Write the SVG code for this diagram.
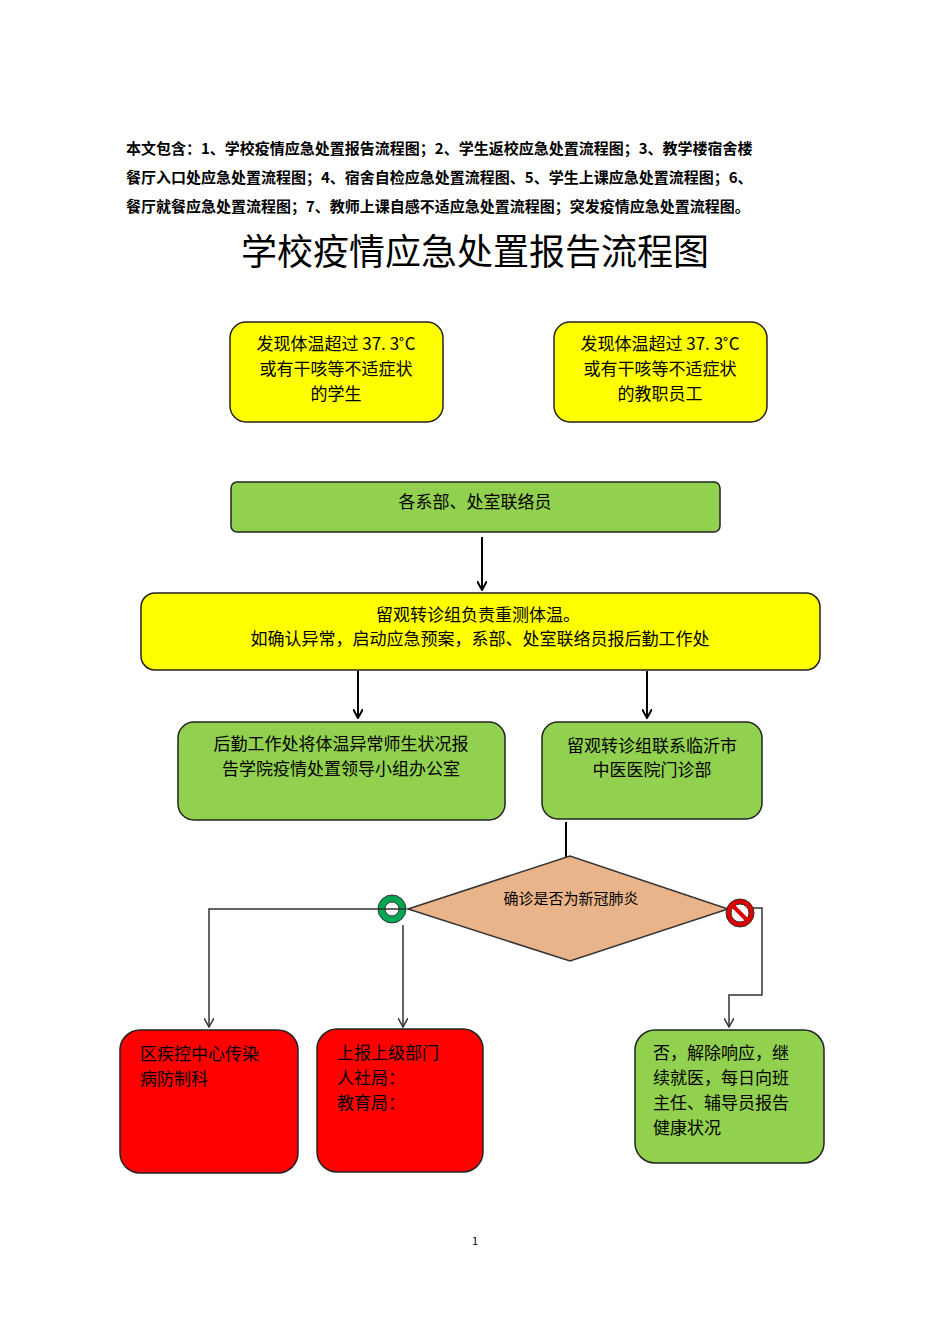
<svg xmlns="http://www.w3.org/2000/svg" width="950" height="1344" viewBox="0 0 950 1344">
<style>
text{font-family:"Noto Sans CJK SC","Liberation Sans",sans-serif;fill:#000}
.h{font-size:15px;font-weight:bold}
.t{font-size:17px}
.box{stroke:#222;stroke-width:1.5}
.y{fill:#ffff00}.g{fill:#92d050}.r{fill:#ff0000}
.c{stroke:#000;stroke-width:2;fill:none}
.c2{stroke:#333;stroke-width:1.5;fill:none}
</style>
<defs>
<marker id="a" markerWidth="10" markerHeight="10" refX="8" refY="5" orient="auto" markerUnits="userSpaceOnUse"><path d="M0,0 L9,5 L0,10" fill="none" stroke="#000" stroke-width="2"/></marker>
<marker id="b" markerWidth="10" markerHeight="10" refX="8" refY="5" orient="auto" markerUnits="userSpaceOnUse"><path d="M0,0 L9,5 L0,10" fill="none" stroke="#333" stroke-width="1.5"/></marker>
</defs>
<rect width="950" height="1344" fill="#fff"/>
<text class="h" x="126" y="154">本文包含：1、学校疫情应急处置报告流程图；2、学生返校应急处置流程图；3、教学楼宿舍楼</text>
<text class="h" x="126" y="183">餐厅入口处应急处置流程图；4、宿舍自检应急处置流程图、5、学生上课应急处置流程图；6、</text>
<text class="h" x="126" y="212">餐厅就餐应急处置流程图；7、教师上课自感不适应急处置流程图；突发疫情应急处置流程图。</text>
<text x="475" y="265" text-anchor="middle" font-size="36">学校疫情应急处置报告流程图</text>
<g id="connectors">
<path class="c" d="M482,537 V589" marker-end="url(#a)"/>
<path class="c" d="M358,671 V717" marker-end="url(#a)"/>
<path class="c" d="M647,671 V717" marker-end="url(#a)"/>
<path class="c" d="M566,822 V868" marker-end="url(#a)"/>
<path class="c2" d="M392,909 H209 V1026" marker-end="url(#b)"/>
<path class="c2" d="M403,925 V1026" marker-end="url(#b)"/>
<path class="c2" d="M740,908 H762 V995 H729 V1026" marker-end="url(#b)"/>
</g>
<g id="n1"><rect class="box y" x="230" y="322" width="213" height="100" rx="16"/>
<text class="t" x="336" y="350" text-anchor="middle">发现体温超过 37. 3˚C</text><text class="t" x="336" y="375" text-anchor="middle">或有干咳等不适症状</text><text class="t" x="336" y="400" text-anchor="middle">的学生</text></g>
<g id="n2"><rect class="box y" x="554" y="322" width="213" height="100" rx="16"/>
<text class="t" x="660" y="350" text-anchor="middle">发现体温超过 37. 3˚C</text><text class="t" x="660" y="375" text-anchor="middle">或有干咳等不适症状</text><text class="t" x="660" y="400" text-anchor="middle">的教职员工</text></g>
<g id="n3"><rect class="box g" x="231" y="482" width="489" height="50" rx="6"/>
<text class="t" x="475" y="508" text-anchor="middle">各系部、处室联络员</text></g>
<g id="n4"><rect class="box y" x="141" y="593" width="679" height="77" rx="14"/>
<text class="t" x="478" y="621" text-anchor="middle">留观转诊组负责重测体温。</text><text class="t" x="480" y="645" text-anchor="middle">如确认异常，启动应急预案，系部、处室联络员报后勤工作处</text></g>
<g id="n5"><rect class="box g" x="178" y="722" width="327" height="98" rx="16"/>
<text class="t" x="341" y="750" text-anchor="middle">后勤工作处将体温异常师生状况报</text><text class="t" x="341" y="775" text-anchor="middle">告学院疫情处置领导小组办公室</text></g>
<g id="n6"><rect class="box g" x="542" y="722" width="220" height="97" rx="16"/>
<text class="t" x="652" y="752" text-anchor="middle">留观转诊组联系临沂市</text><text class="t" x="652" y="776" text-anchor="middle">中医医院门诊部</text></g>
<g id="n7"><polygon points="408,909 570,856 728,909 570,961" fill="#eab48a" stroke="#333" stroke-width="1.5"/>
<text x="571" y="904" text-anchor="middle" font-size="15">确诊是否为新冠肺炎</text></g>
<g id="yes"><circle cx="392" cy="909" r="14" fill="#00a651" stroke="#333"/><circle cx="392" cy="909" r="7" fill="#fff" stroke="#333"/><path d="M378,909 H406" stroke="#333" stroke-width="1.5"/></g>
<g id="no"><circle cx="740" cy="913" r="14" fill="#d00" stroke="#333"/><circle cx="740" cy="913" r="9" fill="#fff" stroke="#333"/><path d="M733,906 L747,920" stroke="#d00" stroke-width="4"/></g>
<g id="n8"><rect class="box r" x="120" y="1030" width="178" height="143" rx="20"/>
<text class="t" x="140" y="1060">区疾控中心传染</text><text class="t" x="140" y="1085">病防制科</text></g>
<g id="n9"><rect class="box r" x="317" y="1029" width="166" height="143" rx="20"/>
<text class="t" x="337" y="1059">上报上级部门</text><text class="t" x="337" y="1084">人社局：</text><text class="t" x="337" y="1109">教育局：</text></g>
<g id="n10"><rect class="box g" x="635" y="1030" width="189" height="133" rx="20"/>
<text class="t" x="653" y="1059">否，解除响应，继</text><text class="t" x="653" y="1084">续就医，每日向班</text><text class="t" x="653" y="1109">主任、辅导员报告</text><text class="t" x="653" y="1134">健康状况</text></g>
<text x="475" y="1245" text-anchor="middle" font-size="11" font-family="Liberation Sans">1</text>
</svg>
